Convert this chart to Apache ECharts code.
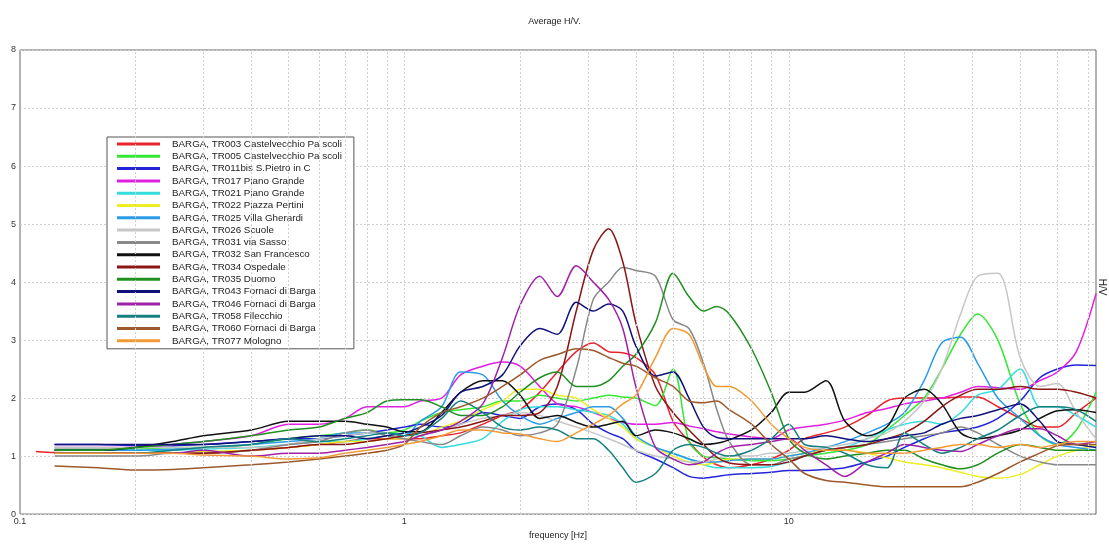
<!DOCTYPE html>
<html>
<head>
<meta charset="utf-8">
<title>Average H/V</title>
<script src="https://cdn.jsdelivr.net/npm/echarts@6/dist/echarts.min.js"></script>
<style>
  html, body { margin: 0; padding: 0; background: #fff; }
  #chart { width: 1109px; height: 545px; }
</style>
</head>
<body>
<div id="chart"></div>
<script>
// frequency grid [Hz], shared by every curve
var freqs = [0.11, 0.123, 0.16, 0.2, 0.25, 0.3, 0.4, 0.5, 0.6, 0.7, 0.8, 0.9, 1.0, 1.1, 1.25, 1.4, 1.6, 1.8, 2.0, 2.25,
  2.5, 2.8, 3.1, 3.4, 3.7, 4.0, 4.5, 5.0, 5.5, 6.0, 6.5, 7, 8, 9, 10, 11, 12.5, 14, 16, 18,
  20, 22.5, 25, 28, 31, 35, 40, 45, 50, 56, 63]

// vertical grid lines (log decades)
var gridFreqs = [0.2, 0.3, 0.4, 0.5, 0.6, 0.7, 0.8, 0.9, 1, 2, 3, 4, 5, 6, 7, 8, 9, 10, 20, 30, 40, 50, 60]

var names = [
  'BARGA, TR003 Castelvecchio Pa scoli',
  'BARGA, TR005 Castelvecchio Pa scoli',
  'BARGA, TR011bis S.Pietro in C',
  'BARGA, TR017 Piano Grande',
  'BARGA, TR021 Piano Grande',
  'BARGA, TR022 Piazza Pertini',
  'BARGA, TR025 Villa Gherardi',
  'BARGA, TR026 Scuole',
  'BARGA, TR031 via Sasso',
  'BARGA, TR032 San Francesco',
  'BARGA, TR034 Ospedale',
  'BARGA, TR035 Duomo',
  'BARGA, TR043 Fornaci di Barga',
  'BARGA, TR046 Fornaci di Barga',
  'BARGA, TR058 Filecchio',
  'BARGA, TR060 Fornaci di Barga',
  'BARGA, TR077 Mologno'
]

var colors = ['#e8242c', '#33e833', '#2424d8', '#e020e0', '#33dddd', '#eeee22', '#2a9be8', '#c6c6c6', '#888888',
  '#111111', '#8b1515', '#1f8f1f', '#10107a', '#a020a8', '#168080', '#9c5a2c', '#f39a34']

// H/V values, one per frequency
var tr003 = [1.08, 1.06, 1.05, 1.05, 1.05, 1.05, 1.1, 1.15, 1.2, 1.25, 1.3, 1.3, 1.3, 1.3, 1.35, 1.4, 1.55, 1.7, 1.8, 2.1,
  2.45, 2.8, 2.95, 2.8, 2.78, 2.7, 2.4, 1.6, 1.25, 0.98, 0.85, 0.8, 0.85, 0.95, 1.1, 1.3, 1.4, 1.5, 1.7, 1.95,
  2.0, 2.0, 2.0, 2.02, 2.02, 1.85, 1.65, 1.5, 1.5, 1.75, 2.0]
var tr005 = [null, 1.12, 1.12, 1.12, 1.15, 1.15, 1.2, 1.3, 1.35, 1.4, 1.45, 1.4, 1.45, 1.6, 1.75, 1.8, 1.85, 1.95, 1.95, 2.05,
  2.0, 1.95, 2.0, 2.05, 2.02, 2.0, 1.87, 2.5, 1.25, 1.0, 0.97, 0.95, 0.92, 0.92, 0.95, 1.0, 1.05, 1.1, 1.2, 1.45,
  1.7, 2.0, 2.5, 3.1, 3.45, 3.0, 1.9, 1.35, 1.2, 1.45, 2.1]
var tr011 = [null, 1.2, 1.2, 1.18, 1.18, 1.2, 1.25, 1.3, 1.3, 1.35, 1.4, 1.45, 1.5, 1.55, 1.5, 1.55, 1.75, 1.7, 1.65, 1.85,
  1.9, 1.8, 1.55, 1.4, 1.3, 1.1, 0.95, 0.8, 0.65, 0.62, 0.65, 0.68, 0.7, 0.72, 0.75, 0.75, 0.77, 0.8, 0.9, 1.0,
  1.15, 1.3, 1.4, 1.45, 1.5, 1.65, 1.95, 2.35, 2.5, 2.57, 2.56]
var tr017 = [null, 1.15, 1.15, 1.15, 1.2, 1.25, 1.35, 1.55, 1.55, 1.65, 1.85, 1.85, 1.85, 1.95, 2.0, 2.4, 2.55, 2.62, 2.55, 2.2,
  1.9, 1.85, 1.75, 1.65, 1.58, 1.55, 1.55, 1.58, 1.52, 1.47, 1.42, 1.38, 1.33, 1.3, 1.45, 1.5, 1.55, 1.62, 1.75, 1.82,
  1.9, 1.95, 2.0, 2.1, 2.2, 2.18, 2.15, 2.3, 2.45, 2.8, 3.8]
var tr021 = [null, 1.1, 1.1, 1.1, 1.1, 1.12, 1.15, 1.2, 1.25, 1.25, 1.3, 1.35, 1.4, 1.35, 1.15, 1.2, 1.3, 1.6, 1.8, 1.85,
  1.85, 1.8, 1.75, 1.7, 1.55, 1.3, 1.15, 1.05, 0.95, 0.85, 0.8, 0.8, 0.8, 0.82, 0.9, 1.0, 1.1, 1.15, 1.3, 1.45,
  1.55, 1.6, 1.55, 1.75, 2.05, 2.15, 2.5, 1.85, 1.85, 1.7, 1.5]
var tr022 = [null, 1.05, 1.05, 1.05, 1.05, 1.08, 1.1, 1.15, 1.2, 1.25, 1.25, 1.3, 1.3, 1.35, 1.5, 1.6, 1.8, 1.95, 2.15, 2.15,
  2.05, 2.0, 1.8, 1.65, 1.5, 1.3, 1.15, 1.0, 0.9, 0.85, 0.9, 0.95, 0.95, 0.95, 1.0, 1.05, 1.1, 1.1, 1.05, 0.97,
  0.9, 0.85, 0.8, 0.72, 0.65, 0.62, 0.68, 0.85, 1.0, 1.1, 1.2]
var tr025 = [null, 1.1, 1.1, 1.1, 1.12, 1.15, 1.2, 1.25, 1.3, 1.4, 1.4, 1.4, 1.35, 1.6, 1.85, 2.45, 2.4, 1.95, 1.7, 1.55,
  1.65, 1.75, 1.85, 1.85, 1.65, 1.35, 1.15, 1.05, 0.95, 0.9, 0.9, 0.92, 0.95, 0.95, 1.0, 1.05, 1.15, 1.25, 1.4, 1.55,
  1.75, 2.3, 2.95, 3.05, 2.6, 2.0, 1.65, 1.35, 1.2, 1.15, 1.1]
var tr026 = [null, 1.15, 1.15, 1.15, 1.15, 1.15, 1.15, 1.2, 1.3, 1.35, 1.4, 1.4, 1.3, 1.35, 1.45, 1.55, 1.65, 1.7, 1.75, 1.7,
  1.6, 1.5, 1.4, 1.3, 1.2, 1.1, 1.0, 0.95, 0.9, 0.9, 0.95, 1.0, 1.0, 1.05, 1.05, 1.1, 1.15, 1.2, 1.3, 1.4,
  1.6, 1.95, 2.5, 3.45, 4.1, 4.15, 2.7, 2.2, 2.25, 1.75, 1.3]
var tr031 = [null, 1.0, 1.0, 1.0, 1.05, 1.05, 1.1, 1.2, 1.25, 1.4, 1.45, 1.35, 1.3, 1.25, 1.2, 1.35, 1.5, 1.45, 1.35, 1.4,
  1.55, 2.5, 3.7, 4.0, 4.25, 4.2, 4.1, 3.35, 3.2, 2.6, 1.8, 1.25, 0.85, 0.85, 0.95, 1.0, 1.1, 1.15, 1.2, 1.25,
  1.3, 1.35, 1.4, 1.5, 1.4, 1.2, 1.0, 0.9, 0.85, 0.85, 0.85]
var tr032 = [null, 1.1, 1.1, 1.15, 1.25, 1.35, 1.45, 1.6, 1.6, 1.6, 1.55, 1.5, 1.42, 1.42, 1.75, 2.1, 2.3, 2.3, 2.05, 1.65,
  1.7, 1.58, 1.5, 1.55, 1.6, 1.35, 1.45, 1.4, 1.3, 1.2, 1.22, 1.28, 1.45, 1.75, 2.1, 2.1, 2.3, 1.6, 1.35, 1.5,
  2.0, 2.15, 1.9, 1.4, 1.3, 1.35, 1.45, 1.65, 1.78, 1.8, 1.75]
var tr034 = [null, 1.05, 1.05, 1.05, 1.05, 1.05, 1.1, 1.15, 1.2, 1.2, 1.25, 1.3, 1.35, 1.4, 1.45, 1.5, 1.6, 1.7, 1.7, 1.75,
  2.2, 3.5, 4.55, 4.92, 4.35, 3.3, 2.2, 1.75, 1.45, 1.2, 0.98, 0.88, 0.85, 0.85, 0.9, 1.0, 1.1, 1.15, 1.2, 1.3,
  1.4, 1.6, 1.85, 2.05, 2.15, 2.15, 2.2, 2.15, 2.15, 2.1, 2.0]
var tr035 = [null, 1.1, 1.1, 1.15, 1.2, 1.25, 1.35, 1.45, 1.5, 1.65, 1.75, 1.95, 1.97, 1.97, 1.85, 1.7, 1.7, 1.85, 2.1, 2.35,
  2.45, 2.2, 2.2, 2.3, 2.55, 2.75, 3.3, 4.15, 3.75, 3.5, 3.58, 3.45, 2.85, 2.1, 1.3, 1.05, 0.95, 1.0, 1.05, 1.1,
  1.1, 0.95, 0.85, 0.78, 0.85, 1.05, 1.2, 1.15, 1.1, 1.1, 1.1]
var tr043 = [null, 1.2, 1.2, 1.2, 1.2, 1.2, 1.25, 1.3, 1.35, 1.35, 1.3, 1.35, 1.4, 1.5, 1.7, 2.1, 2.2, 2.4, 2.9, 3.2,
  3.1, 3.65, 3.5, 3.62, 3.5, 2.9, 2.38, 2.45, 2.0, 1.5, 1.32, 1.3, 1.3, 1.3, 1.3, 1.3, 1.35, 1.3, 1.25, 1.3,
  1.35, 1.4, 1.55, 1.65, 1.7, 1.8, 1.9, 1.6, 1.25, 1.2, 1.15]
var tr046 = [null, 1.05, 1.05, 1.05, 1.05, 1.1, 1.0, 1.05, 1.05, 1.1, 1.15, 1.2, 1.25, 1.35, 1.45, 1.6, 1.9, 2.7, 3.6, 4.1,
  3.75, 4.28, 4.0, 3.7, 3.2, 2.2, 1.15, 0.95, 0.85, 0.9, 1.05, 1.15, 1.2, 1.25, 1.3, 1.1, 0.85, 0.65, 0.9, 1.05,
  1.2, 1.15, 1.1, 1.08, 1.2, 1.35, 1.47, 1.47, 1.35, 1.2, 1.25]
var tr058 = [null, 1.05, 1.05, 1.05, 1.1, 1.15, 1.2, 1.3, 1.25, 1.3, 1.35, 1.4, 1.35, 1.4, 1.65, 1.95, 1.75, 1.5, 1.45, 1.5,
  1.45, 1.3, 1.3, 1.1, 0.8, 0.55, 0.7, 1.1, 1.2, 1.15, 1.05, 1.0, 1.1, 1.3, 1.55, 1.2, 1.15, 1.05, 0.85, 0.8,
  1.4, 1.2, 1.05, 1.15, 1.3, 1.45, 1.7, 1.85, 1.85, 1.8, 1.6]
var tr060 = [null, 0.83, 0.8, 0.76, 0.77, 0.8, 0.85, 0.9, 0.95, 1.0, 1.05, 1.1, 1.2, 1.5, 1.75, 1.85, 2.0, 2.2, 2.4, 2.65,
  2.75, 2.85, 2.82, 2.7, 2.6, 2.55, 2.35, 2.2, 1.95, 1.92, 1.95, 1.8, 1.55, 1.2, 0.95, 0.7, 0.58, 0.55, 0.5, 0.47,
  0.47, 0.47, 0.47, 0.47, 0.55, 0.7, 0.9, 1.05, 1.18, 1.2, 1.2]
var tr077 = [null, 1.05, 1.05, 1.05, 1.05, 1.02, 1.0, 0.95, 0.97, 1.05, 1.1, 1.15, 1.2, 1.25, 1.35, 1.45, 1.45, 1.4, 1.38, 1.3,
  1.25, 1.4, 1.55, 1.7, 1.9, 2.05, 2.7, 3.2, 3.1, 2.55, 2.2, 2.2, 1.95, 1.55, 1.3, 1.15, 1.1, 1.1, 1.05, 1.05,
  1.05, 1.1, 1.15, 1.2, 1.2, 1.15, 1.2, 1.15, 1.2, 1.25, 1.25]

var curves = [tr003, tr005, tr011, tr017, tr021, tr022, tr025, tr026, tr031, tr032, tr034, tr035, tr043, tr046, tr058, tr060, tr077]

var font = "'Liberation Sans', Arial, sans-serif"

var series = curves.map(function (vals, i) {
  return {
    name: names[i],
    type: 'line',
    data: freqs.map(function (f, j) { return [f, vals[j]] }),
    showSymbol: false,
    smooth: 0.3,
    connectNulls: false,
    lineStyle: { width: 1.5, color: colors[i] },
    itemStyle: { color: colors[i] },
    emphasis: { disabled: true }
  }
})

// dashed log grid, placed through the x axis scale
series.unshift({
  name: 'grid',
  type: 'line',
  data: [],
  silent: true,
  markLine: {
    silent: true,
    symbol: ['none', 'none'],
    label: { show: false },
    lineStyle: { color: '#cfcfcf', type: [2, 2], width: 1 },
    data: gridFreqs.map(function (f) { return { xAxis: f } })
  }
})

var chart = echarts.init(document.getElementById('chart'))
chart.setOption({
  animation: false,
  backgroundColor: '#fff',
  textStyle: { fontFamily: font },
  title: {
    text: 'Average H/V.',
    left: 'center',
    top: 12,
    textStyle: { fontSize: 9, fontWeight: 'normal', color: '#222', fontFamily: font }
  },
  legend: {
    data: names,
    orient: 'vertical',
    left: 107,
    top: 137,
    padding: [1, 12, 2, 10],
    itemGap: 0.3,
    itemWidth: 43,
    itemHeight: 3,
    icon: 'rect',
    borderColor: '#555',
    borderWidth: 1,
    backgroundColor: '#fff',
    selectedMode: false,
    textStyle: { fontSize: 9.8, color: '#222', lineHeight: 12, padding: [0, 0, 0, 7], fontFamily: font }
  },
  grid: {
    left: 20,
    right: 13,
    top: 50,
    bottom: 21,
    show: true,
    borderColor: '#666',
    borderWidth: 1,
    backgroundColor: '#fff'
  },
  xAxis: {
    type: 'log',
    logBase: 10,
    min: 0.1,
    max: 63,
    name: 'frequency [Hz]',
    nameLocation: 'middle',
    nameGap: 9,
    nameTextStyle: { fontSize: 9, color: '#222' },
    axisLine: { show: false },
    axisTick: { show: false },
    splitLine: { show: false },
    axisLabel: {
      fontSize: 9,
      color: '#333',
      margin: 3,
      formatter: function (v) {
        var l = Math.log10(v)
        return Math.abs(l - Math.round(l)) < 1e-6 ? String(+v.toPrecision(3)) : ''
      }
    }
  },
  yAxis: {
    type: 'value',
    min: 0,
    max: 8,
    interval: 1,
    axisLine: { show: false },
    axisTick: { show: false },
    axisLabel: { fontSize: 9, color: '#333', margin: 4 },
    splitLine: { show: true, lineStyle: { color: '#cfcfcf', type: [2, 2], width: 1 } }
  },
  graphic: [{
    type: 'text',
    x: 1102,
    y: 287,
    rotation: -Math.PI / 2,
    style: {
      text: 'H/V',
      fontSize: 10,
      fill: '#222',
      fontFamily: font,
      align: 'center',
      verticalAlign: 'middle'
    }
  }],
  series: series
})
</script>
</body>
</html>
